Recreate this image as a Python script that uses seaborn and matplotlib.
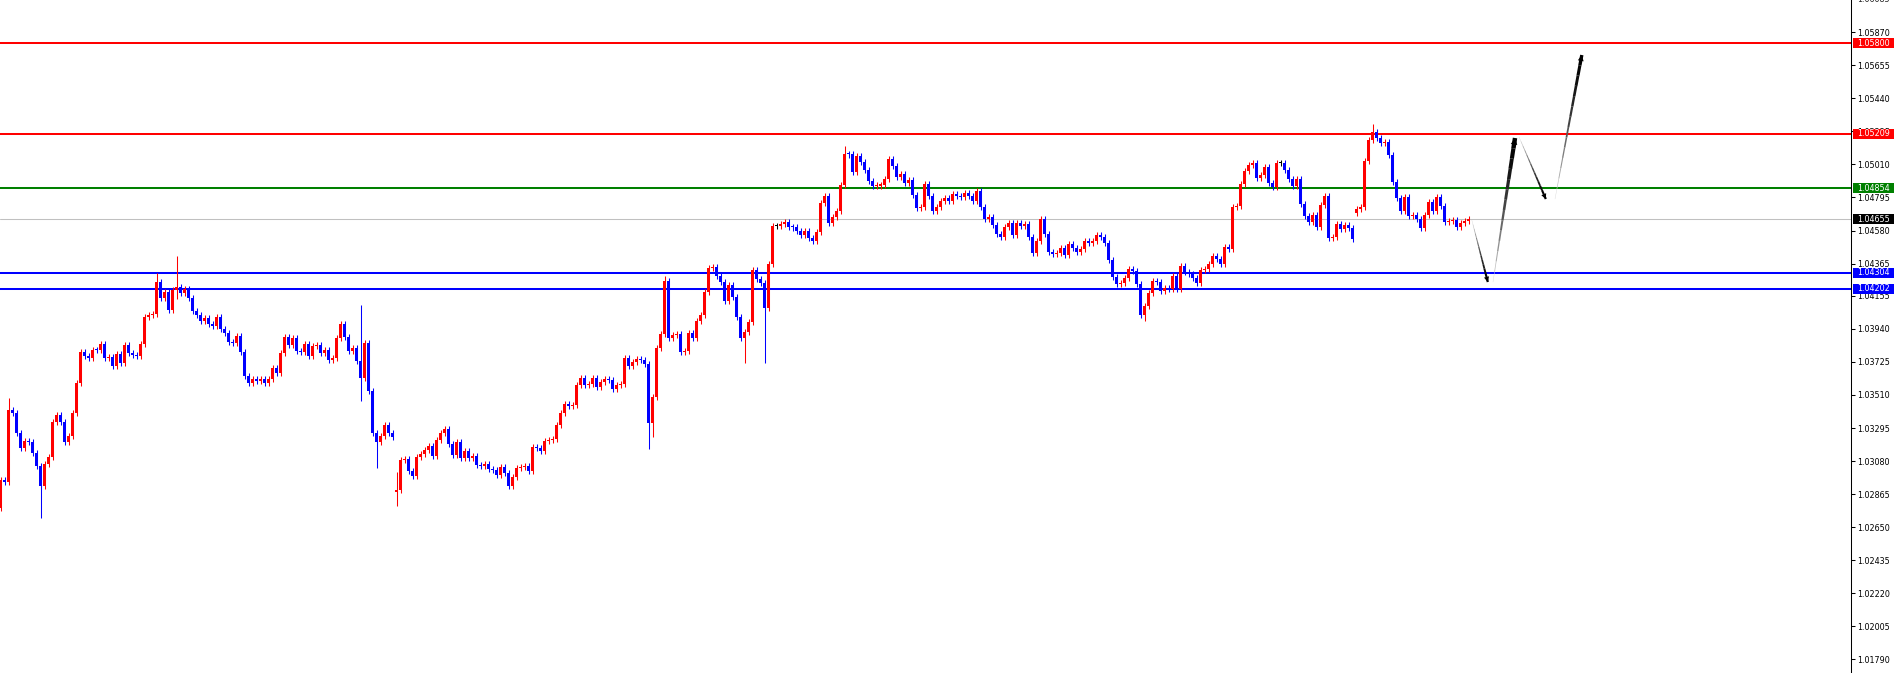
import numpy as np
import matplotlib.pyplot as plt
import seaborn as sns
from matplotlib.collections import LineCollection
from matplotlib.patches import Rectangle
from matplotlib.transforms import blended_transform_factory

# 画布尺寸 (像素)
W, H = 1898, 673
SCALE = 1e5  # 价格以 1e-5 为单位录入

# 收盘价 (x 1e5), 每根K线一个值
close_pts = [
    102957, 102944, 103412, 103392, 103262, 103165, 103210, 103204, 103132, 103048,
    102918, 103061, 103106, 103334, 103379, 103334, 103204, 103243, 103392, 103587,
    103790, 103764, 103750, 103803, 103800, 103842, 103750, 103757, 103698, 103777,
    103718, 103835, 103783, 103770, 103764, 103842, 104018, 104031, 104037, 104245,
    104141, 104180, 104063, 104193, 104213, 104173, 104199, 104141, 104056, 104031,
    103991, 104011, 103972, 103959, 104018, 103940, 103913, 103855, 103848, 103894,
    103790, 103633, 103587, 103613, 103600, 103613, 103587, 103613, 103685, 103653,
    103783, 103887, 103835, 103881, 103796, 103790, 103842, 103764, 103829, 103835,
    103783, 103803, 103737, 103750, 103881, 103972, 103887, 103796, 103816, 103731,
    103620, 103848, 103536, 103262, 103204, 103243, 103314, 103262, 103236, 102892,
    103087, 103093, 103015, 102983, 103106, 103126, 103152, 103178, 103113, 103217,
    103262, 103288, 103191, 103119, 103204, 103100, 103145, 103100, 103113, 103054,
    103048, 103061, 103028, 103022, 102989, 103041, 103002, 102918, 102976, 103035,
    103041, 103048, 103015, 103171, 103165, 103145, 103210, 103217, 103223, 103314,
    103392, 103451, 103438, 103444, 103575, 103620, 103575, 103581, 103620, 103562,
    103594, 103613, 103607, 103549, 103575, 103581, 103750, 103698, 103724, 103744,
    103737, 103711, 103327, 103497, 103816, 103907, 104252, 103881, 103900, 103907,
    103790, 103796, 103913, 103881, 103991, 104031, 104180, 104336, 104343, 104284,
    104245, 104122, 104226, 104148, 104018, 103881, 103920, 103985, 104323, 104265,
    104239, 104076, 104362, 104609, 104609, 104622, 104635, 104603, 104600, 104577,
    104551, 104577, 104531, 104512, 104570, 104759, 104805, 104629, 104668, 104707,
    104876, 105078, 105075, 104961, 105065, 105026, 104974, 104902, 104870, 104873,
    104876, 104915, 105045, 105000, 104928, 104948, 104889, 104909, 104811, 104727,
    104733, 104883, 104805, 104707, 104733, 104772, 104792, 104772, 104818, 104805,
    104798, 104824, 104805, 104772, 104837, 104733, 104655, 104668, 104616, 104557,
    104538, 104603, 104629, 104551, 104629, 104609, 104622, 104538, 104434, 104512,
    104655, 104557, 104440, 104427, 104434, 104466, 104421, 104492, 104466, 104440,
    104460, 104512, 104499, 104512, 104551, 104538, 104499, 104388, 104278, 104232,
    104239, 104271, 104330, 104317, 104232, 104030, 104089, 104173, 104252, 104245,
    104187, 104206, 104199, 104284, 104199, 104349, 104310, 104297, 104271, 104239,
    104323, 104330, 104362, 104414, 104395, 104362, 104473, 104460, 104733, 104740,
    104883, 104967, 105006, 105019, 104922, 104941, 104994, 104889, 104863, 105019,
    105019, 104974, 104915, 104870, 104915, 104752, 104674, 104635, 104681, 104603,
    104746, 104805, 104531, 104538, 104622, 104590, 104616, 104596, 104525, 104720,
    104733, 105032, 105169, 105221, 105182, 105149, 105156, 105071, 104896, 104792,
    104707, 104798, 104674, 104681, 104655, 104596, 104681, 104766, 104707, 104798,
    104740, 104635, 104642, 104648, 104603, 104629, 104642, 104655,
]

# 跳空开盘 (其余开盘价 = 前一根收盘价)
gap_open_pts = {0: 102774, 99: 102879, 339: 104694}

# 较长的上/下影线
high_pts = {2: 103490, 39: 104304, 44: 104414, 90: 104096, 99: 103009,
            166: 104284, 211: 105130, 343: 105273}
low_pts = {10: 102709, 44: 104134, 90: 103470, 94: 103035, 99: 102788,
           127: 102911, 162: 103158, 163: 103236, 186: 103718, 191: 103718,
           286: 103991}

# 水平支撑/阻力位
level_prices = [1.05800, 1.05209, 1.04854, 1.04655, 1.04304, 1.04202]
level_colors = ['#FF0000', '#FF0000', '#008000', '#C0C0C0', '#0000FF', '#0000FF']
level_box_colors = ['#FF0000', '#FF0000', '#008000', '#000000', '#0000FF', '#0000FF']
level_widths = [1.45, 1.45, 1.45, 0.75, 1.45, 1.45]

# 右侧价格刻度
tick_labels = ['1.01790', '1.02005', '1.02220', '1.02435', '1.02650', '1.02865',
               '1.03080', '1.03295', '1.03510', '1.03725', '1.03940', '1.04155',
               '1.04365', '1.04580', '1.04795', '1.05010', '1.05225', '1.05440',
               '1.05655', '1.05870']
top_tick_label = '1.06085'

# 预测走势箭头 (K线序号, 价格 x 1e5), 两两一段
path_bar = [367.8, 371.8, 373.1, 378.6, 379.6, 386.3, 388.6, 395.3]
path_pts = [104648, 104245, 104245, 105182, 105189, 104785, 104785, 105722]
path_maxw = [1.6, 3.2, 1.6, 2.4]

WICK = 0.00020
Y_MIN, Y_MAX = 1.01701, 1.06080
X_MIN, X_MAX = -0.175, 462.6


def build_ohlc():
    """由收盘价得到 OHLC"""
    c = np.array(close_pts) / SCALE
    o = np.empty_like(c)
    o[1:] = c[:-1]
    for k, v in gap_open_pts.items():
        o[k] = v / SCALE
    hi = np.maximum(o, c) + WICK
    lo = np.minimum(o, c) - WICK
    for k, v in high_pts.items():
        hi[k] = max(hi[k], v / SCALE)
    for k, v in low_pts.items():
        lo[k] = min(lo[k], v / SCALE)
    return o, hi, lo, c


def draw_candles(ax):
    o, hi, lo, c = build_ohlc()
    idx = np.arange(len(c))
    cols = np.where(c > o, '#FF0000', np.where(c < o, '#0000FF', '#000000'))
    ax.vlines(idx, lo, hi, colors=cols, linewidth=0.75, zorder=3)
    body = np.maximum(np.abs(c - o), 0.00007)
    ax.bar(idx, body, bottom=np.minimum(o, c), width=0.75, color=cols,
           linewidth=0, zorder=4)


def draw_arrow(ax, x0, y0, x1, y1, maxw):
    """渐变加粗的箭头线, 从浅灰到黑"""
    n = 14
    xs = np.linspace(x0, x1, n + 1)
    ys = np.linspace(y0, y1, n + 1)
    segs = [[(xs[i], ys[i]), (xs[i + 1], ys[i + 1])] for i in range(n)]
    t = np.linspace(0, 1, n)
    grey = 0.85 * (1 - t) ** 1.5
    cols = [(g, g, g) for g in grey]
    lc = LineCollection(segs, colors=cols, linewidths=0.3 + (maxw - 0.3) * t,
                        capstyle='butt', zorder=6)
    ax.add_collection(lc)
    ax.annotate('', xy=(x1, y1), xytext=(xs[-2], ys[-2]),
                arrowprops=dict(arrowstyle='-|>', color='black', lw=0,
                                mutation_scale=7 + 1.5 * maxw,
                                shrinkA=0, shrinkB=0), zorder=7)


def main():
    sns.set_theme(style='white')
    plt.rcParams['font.family'] = ['DejaVu Sans']

    fig = plt.figure(figsize=(W / 100, H / 100), dpi=100)
    ax = fig.add_axes([0, 0, 1851 / W, 1])
    ax.set_facecolor('white')

    # 水平线
    for p, col, lw in zip(level_prices, level_colors, level_widths):
        ax.axhline(p, color=col, linewidth=lw, zorder=2)

    draw_candles(ax)

    # 预测箭头
    for k in range(0, len(path_bar), 2):
        draw_arrow(ax, path_bar[k], path_pts[k] / SCALE,
                   path_bar[k + 1], path_pts[k + 1] / SCALE, path_maxw[k // 2])

    ax.set_xlim(X_MIN, X_MAX)
    ax.set_ylim(Y_MIN, Y_MAX)
    ax.set_xticks([])

    # 右侧坐标轴
    ax.yaxis.tick_right()
    ax.set_yticks([float(t) for t in tick_labels])
    ax.set_yticklabels(tick_labels)
    ax.tick_params(axis='y', direction='out', length=3, width=0.75,
                   labelsize=5.8, pad=1.5, colors='black', right=True)
    for s in ['left', 'top', 'bottom']:
        ax.spines[s].set_visible(False)
    ax.spines['right'].set_color('black')
    ax.spines['right'].set_linewidth(0.75)
    ax.text(1.0 + 6 / 1851, float(top_tick_label), top_tick_label,
            transform=blended_transform_factory(ax.transAxes, ax.transData),
            fontsize=5.8, va='center', ha='left', clip_on=False)

    # 价格标签框
    tr = blended_transform_factory(fig.transFigure, ax.transData)
    box_h = 10 / H * (Y_MAX - Y_MIN)
    for p, col in zip(level_prices, level_box_colors):
        ax.add_patch(Rectangle((1853 / W, p - box_h / 2), 41 / W, box_h,
                               transform=tr, facecolor=col, edgecolor='none',
                               clip_on=False, zorder=10))
        ax.text(1857 / W, p, f'{p:.5f}', transform=tr, color='white',
                fontsize=5.8, va='center', ha='left', clip_on=False, zorder=11)

    fig.savefig('out.png', dpi=100)


if __name__ == '__main__':
    main()
